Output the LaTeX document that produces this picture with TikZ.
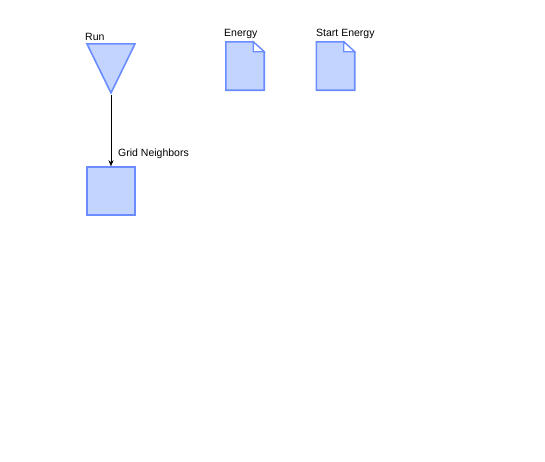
\documentclass[tikz,border=0pt]{standalone}
\usepackage{fontspec}
\setmainfont{Liberation Sans}
\usetikzlibrary{arrows.meta,shapes.geometric}
\definecolor{shapefill}{HTML}{C3D5FF}
\definecolor{shapeline}{HTML}{6A8CFF}

\begin{document}
\begin{tikzpicture}[x=1pt,y=-1pt,font=\fontsize{10.5}{12}\selectfont,
  shape node/.style={draw=shapeline,fill=shapefill,line width=1.6pt,inner sep=0pt},
  run node/.style={shape node,isosceles triangle,isosceles triangle stretches,shape border rotate=270,minimum width=48pt,minimum height=49pt},
  grid node/.style={shape node,rectangle,minimum width=48pt,minimum height=48pt},
  doc node/.style={rectangle,inner sep=0pt,minimum width=38pt,minimum height=48pt},
  text node/.style={anchor=west,inner sep=0pt}]
  \useasboundingbox (0,0) rectangle (545,461);

  \node[run node,anchor=apex] (run) at (111,95) {};
  \node[grid node] (grid) at (111,191) {};
  \node[doc node] (energy) at (245,66) {};
  \node[doc node] (start) at (335.5,66) {};

  \node[text node] (runlabel) at (85,37) {Run};
  \node[text node] (energylabel) at (224,34) {Energy};
  \node[text node] (startlabel) at (316,34) {Start Energy};

  % documents with folded corner
  \foreach \d in {energy,start} {
    \filldraw[draw=shapeline,fill=shapefill,line width=1.6pt,line join=miter]
      (\d.south west) |- ([xshift=-11pt]\d.north east) -- ([yshift=-10pt]\d.north east) |- cycle;
    \filldraw[draw=shapeline,fill=white,line width=1.2pt]
      ([xshift=-11pt]\d.north east) |- ([yshift=-10pt]\d.north east) -- cycle;
  }

  \path [-{Stealth[length=6pt,width=5pt]},thin,black] (run.apex) edge node[text node,xshift=7pt,yshift=12pt,pos=1] {Grid Neighbors} (grid.north);
\end{tikzpicture}
\end{document}
